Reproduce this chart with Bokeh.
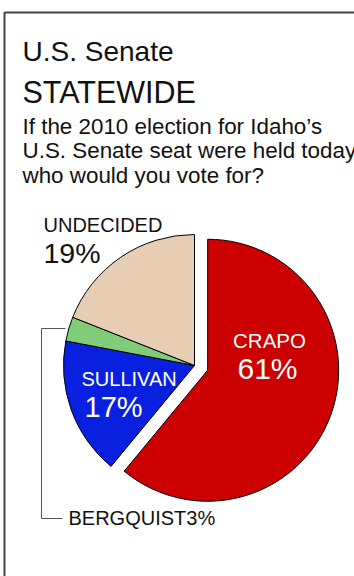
import math
from bokeh.plotting import figure
from bokeh.models import Range1d, ColumnDataSource
from bokeh.core.properties import value
from bokeh.embed import file_html
from bokeh.resources import INLINE

# ---- data ----
categories = ["CRAPO", "SULLIVAN", "BERGQUIST", "UNDECIDED"]
percents = [61, 17, 3, 19]
colors = ["#CC0000", "#0A20E0", "#80CC78", "#E6CDB3"]
title_lines = ["U.S. Senate", "STATEWIDE"]
question_lines = ["If the 2010 election for Idaho\u2019s",
                  "U.S. Senate seat were held today,",
                  "who would you vote for?"]

W, H = 354, 576
FONT = value("Liberation Sans")


def Y(py):
    return H - py


p = figure(width=W, height=H, output_backend="svg", toolbar_location=None,
           x_range=Range1d(0, W), y_range=Range1d(0, H), min_border=0,
           x_axis_location=None, y_axis_location=None)
p.outline_line_color = None
p.xgrid.visible = False
p.ygrid.visible = False
p.background_fill_color = "white"

# frame lines
p.line([4, 4, W], [Y(H), Y(12), Y(12)], line_color="#444444", line_width=2)


def label(x, base, t, size, color, align="left"):
    # text is rendered centred on its anchor: shift anchor up from the baseline
    anchor = base - 0.35 * size
    p.text(x=[x], y=[Y(anchor)], text=[t], text_font=FONT, text_font_size=value(f"{size}px"),
           text_baseline="middle", text_align=align, text_color=color)

# titles
label(22, 61, title_lines[0], 28, "#111111")
label(22, 102, title_lines[1], 30.5, "#111111")
for i, line in enumerate(question_lines):
    label(22, 133.5 + 24.5 * i, line, 22.4, "#111111")

# pie
cx, cy, r = 194, 365, 131
explode = 14
xs, ys, starts, ends = [], [], [], []
cum = 90.0
for i, pct in enumerate(percents):
    end = cum
    start = cum - pct * 3.6
    cum = start
    mid = math.radians((start + end) / 2)
    off = explode if i == 0 else 0
    xs.append(cx + off * math.cos(mid))
    ys.append(Y(cy) + off * math.sin(mid))
    starts.append(start)
    ends.append(end)

src = ColumnDataSource(dict(x=xs, y=ys, start=starts, end=ends, color=colors, cat=categories))
p.wedge(x="x", y="y", radius=r, start_angle="start", end_angle="end",
        start_angle_units="deg", end_angle_units="deg", direction="anticlock",
        fill_color="color", line_color="black", line_width=1, source=src)

# leader line for BERGQUIST
p.line([65, 41, 41, 62], [Y(328), Y(328), Y(518), Y(518)], line_color="#555555", line_width=1)

# labels
label(43, 231, categories[3], 20, "#111111")
label(43, 262, f"{percents[3]}%", 28.5, "#111111")
label(269, 347, categories[0], 20.5, "white", "center")
label(267, 378, f"{percents[0]}%", 30, "white", "center")
label(81, 385, categories[1], 20, "white")
label(84, 417, f"{percents[1]}%", 29, "white")
label(68, 524, f"{categories[2]}{percents[2]}%", 20, "#111111")

open("out.html", "w").write(file_html(p, INLINE))
